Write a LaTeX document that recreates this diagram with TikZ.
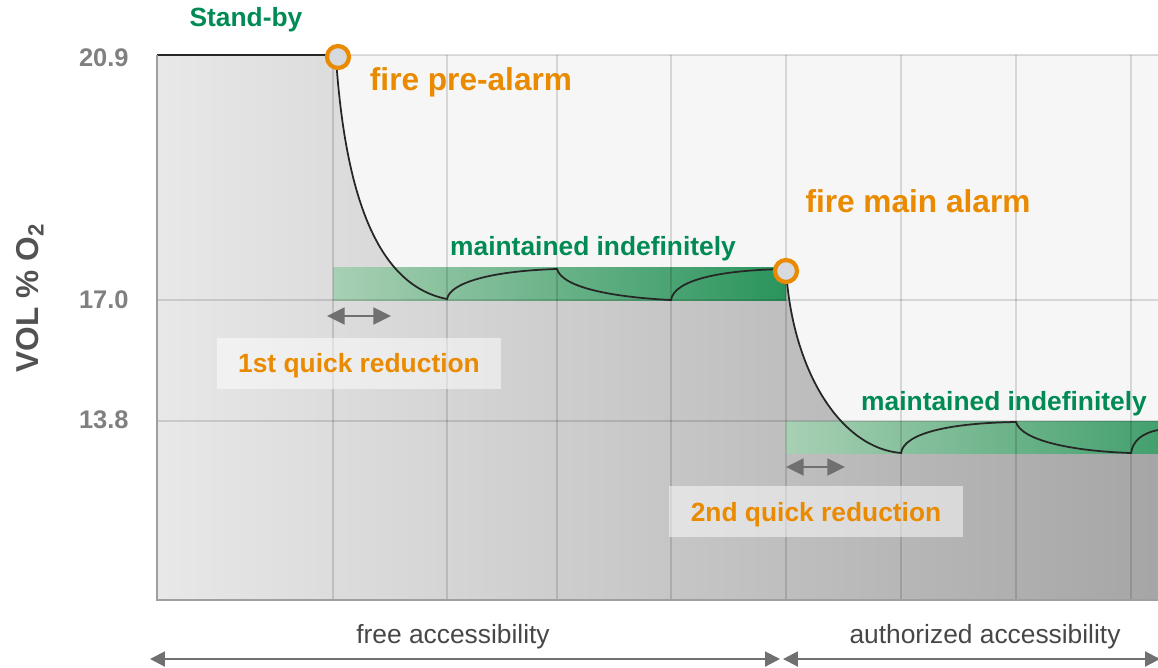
\documentclass[tikz,border=0pt]{standalone}
\usepackage{fontspec}
\setmainfont{Liberation Sans}
\usetikzlibrary{arrows.meta}
\definecolor{standbygreen}{RGB}{0,138,84}
\definecolor{alarmorange}{RGB}{233,138,0}
\definecolor{bandlight}{RGB}{168,208,180}
\definecolor{banddark}{RGB}{42,148,92}
\definecolor{dotfill}{RGB}{214,218,222}
\definecolor{tickgray}{RGB}{128,128,128}
\definecolor{arrowgray}{RGB}{112,112,112}
\tikzset{
	greentext/.style={text=standbygreen, font=\fontsize{15}{18}\selectfont\bfseries, anchor=base},
	alarmtext/.style={text=alarmorange, font=\fontsize{18}{22}\selectfont\bfseries, anchor=base},
	ticktext/.style={text=tickgray, font=\fontsize{14.5}{17}\selectfont\bfseries, anchor=east, inner sep=0pt},
	accesstext/.style={text=black!72, font=\fontsize{15}{18}\selectfont, anchor=base},
	reductionbox/.style={text=alarmorange, font=\fontsize{15}{18}\selectfont\bfseries, fill=white, fill opacity=0.5, text opacity=1, minimum height=1.02cm, text height=0.38cm, text depth=0pt, inner sep=0pt},
	alarmdot/.style={circle, draw=alarmorange, line width=2.4pt, fill=dotfill, minimum size=0.44cm, inner sep=0pt},
	gridline/.style={black, opacity=0.13, line width=0.8pt},
	dimarrow/.style={arrowgray, line width=1.6pt, {Triangle[length=10pt,width=9.5pt]}-{Triangle[length=10pt,width=9.5pt]}},
	spanarrow/.style={arrowgray, line width=1.2pt, {Triangle[length=8.5pt,width=8.5pt]}-{Triangle[length=8.5pt,width=8.5pt]}}
}
\begin{document}
\begin{tikzpicture}[x=0.02cm, y=-0.02cm]
		\useasboundingbox (0,0) rectangle (1158,667);
		% plot area
		\fill[gray!7] (157,55) rectangle (1158,600);
		\shade[left color=gray!18, right color=gray!70] (157,55) -- (336,55) -- (336,58)
			.. controls (345,190) and (375,285) .. (447,299)
			.. controls (450,283) and (490,271) .. (557,269)
			.. controls (562,287) and (610,297) .. (671,300)
			.. controls (674,280) and (720,270) .. (786,269)
			.. controls (792,370) and (840,448) .. (901,453)
			.. controls (904,433) and (950,423) .. (1016,422)
			.. controls (1021,440) and (1070,451) .. (1131,453)
			.. controls (1133,440) and (1143,433) .. (1158,430)
			-- (1158,600) -- (157,600) -- cycle;
		\shade[left color=bandlight, right color=banddark] (333,267) rectangle (786,300);
		\shade[left color=bandlight, right color=banddark!80!bandlight] (786,421) rectangle (1158,453);
		\foreach \gx in {333,447,557,671,786,901,1016,1131}
			\draw[gridline] (\gx,55) -- (\gx,600);
		\draw[gridline] (336,55) -- (1158,55);
		\draw[gridline] (157,300) -- (1158,300);
		\draw[gridline] (157,421) -- (1158,421);
		% O2 level
		\draw[black!85, line width=1pt] (336,58)
			.. controls (345,190) and (375,285) .. (447,299)
			.. controls (450,283) and (490,271) .. (557,269)
			.. controls (562,287) and (610,297) .. (671,300)
			.. controls (674,280) and (720,270) .. (786,269)
			.. controls (792,370) and (840,448) .. (901,453)
			.. controls (904,433) and (950,423) .. (1016,422)
			.. controls (1021,440) and (1070,451) .. (1131,453)
			.. controls (1133,440) and (1143,433) .. (1158,430);
		\draw[black!85, line width=1.3pt] (157,55) -- (336,55);
		\draw[gray!75, line width=1.2pt] (157,55) -- (157,600) -- (1158,600);
		\node[alarmdot] (prealarm) at (338,57) {};
		\node[alarmdot] (mainalarm) at (786,271) {};
		% texts
		\node[greentext] (standby) at (246,26) {Stand-by};
		\node[alarmtext] (prealarmtext) at (471,90) {fire pre-alarm};
		\node[alarmtext] (mainalarmtext) at (918,212) {fire main alarm};
		\node[greentext] (maintainA) at (593,255) {maintained indefinitely};
		\node[greentext] (maintainB) at (1004,410) {maintained indefinitely};
		\node[reductionbox, minimum width=5.68cm] (firstred) at (359,363) {1st quick reduction};
		\node[reductionbox, minimum width=5.88cm] (secondred) at (816,511.5) {2nd quick reduction};
		\node[ticktext] (tickA) at (129,58) {20.9};
		\node[ticktext] (tickB) at (129,300) {17.0};
		\node[ticktext] (tickC) at (129,420) {13.8};
		\node[rotate=90, text=black!68, font=\fontsize{18}{22}\selectfont\bfseries] (ylabel) at (30,298) {VOL \% O\textsubscript{2}};
		% reduction time
		\coordinate (firstL) at (327,316);
		\coordinate (firstR) at (391,316);
		\coordinate (secondL) at (786,467);
		\coordinate (secondR) at (845,467);
		\draw[dimarrow] (firstL) -- (firstR);
		\draw[dimarrow] (secondL) -- (secondR);
		% access
		\node[accesstext] (freetext) at (453,643) {free accessibility};
		\node[accesstext] (authtext) at (985,643) {authorized accessibility};
		\coordinate (freeL) at (150,659);
		\coordinate (freeR) at (780,659);
		\coordinate (authL) at (783,659);
		\coordinate (authR) at (1160,659);
		\draw[spanarrow] (freeL) -- (freeR);
		\draw[spanarrow] (authL) -- (authR);
\end{tikzpicture}
\end{document}
